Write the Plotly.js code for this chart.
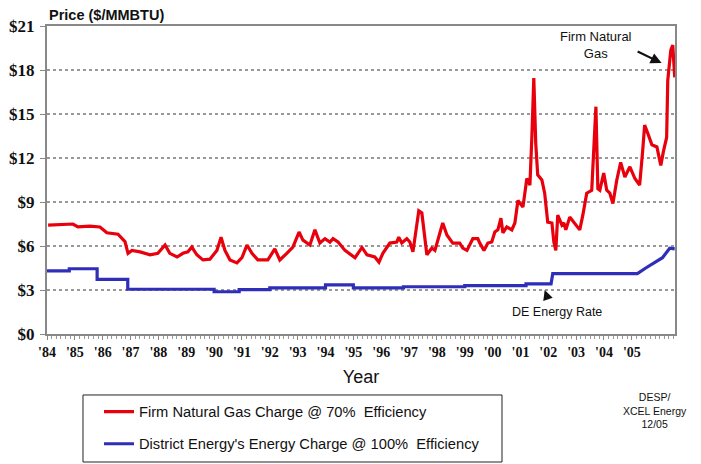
<!DOCTYPE html>
<html>
<head>
<meta charset="utf-8">
<script src="https://cdn.plot.ly/plotly-3.0.1.min.js"></script>
<style>
html,body{margin:0;padding:0;background:#fff;}
#chart{width:701px;height:464px;}
</style>
</head>
<body>
<div id="chart"></div>
<script>
// Firm natural gas charge @ 70% efficiency ($/MMBTU), by decimal year
var gasYears = [1984.04,1984.93,1985.11,1985.54,1985.90,1986.15,1986.55,1986.69,1986.80,1986.91,1987.05,1987.34,1987.70,1987.98,1988.24,1988.41,1988.67,1988.88,1989.06,1989.20,1989.38,1989.60,1989.85,
  1990.10,1990.25,1990.39,1990.57,1990.82,1991.00,1991.18,1991.36,1991.57,1991.93,1992.18,1992.36,1992.61,1992.83,1993.05,1993.19,1993.44,1993.62,1993.80,1993.98,1994.16,1994.27,1994.45,1994.70,1995.06,1995.31,1995.49,
  1995.77,1995.92,1996.06,1996.31,1996.56,1996.63,1996.74,1996.92,1997.03,1997.14,1997.24,1997.35,1997.46,1997.57,1997.64,1997.82,1997.93,1998.11,1998.21,1998.36,1998.57,1998.82,1998.93,1999.08,1999.29,1999.47,1999.54,1999.69,1999.83,1999.97,
  2000.08,2000.19,2000.30,2000.37,2000.51,2000.69,2000.80,2000.91,2001.09,2001.23,2001.34,2001.41,2001.48,2001.55,2001.62,2001.77,2001.87,2001.98,2002.13,2002.20,2002.27,2002.34,2002.49,2002.56,2002.63,2002.77,2002.95,2003.13,2003.24,2003.38,2003.56,
  2003.71,2003.78,2003.85,2003.99,2004.10,2004.21,2004.32,2004.46,2004.60,2004.75,2004.93,2005.11,2005.28,2005.39,2005.46,2005.57,2005.72,2005.90,2006.04,2006.14,2006.25,2006.29,2006.40,2006.47,2006.54];
var gasValues = [7.43,7.5,7.3,7.36,7.3,6.9,6.8,6.5,6.3,5.5,5.7,5.6,5.4,5.5,6.07,5.5,5.25,5.5,5.6,5.93,5.4,5.05,5.1,
  5.7,6.6,5.7,5.05,4.85,5.2,6.07,5.5,5.05,5.05,5.8,5.05,5.5,5.93,6.95,6.4,6.07,7.1,6.2,6.5,6.27,6.5,6.27,5.7,5.2,5.9,5.4,
  5.25,4.9,5.5,6.2,6.27,6.6,6.2,6.5,6.27,5.6,6.9,8.4,8.25,6.5,5.4,5.86,5.7,6.9,7.57,6.75,6.2,6.2,5.86,5.7,6.5,6.5,6.2,5.7,6.2,6.27,
  6.95,7.1,7.9,6.9,7.3,7.1,7.57,9.1,8.65,10.6,10.15,13.4,17.45,13.0,10.85,10.5,9.6,7.63,7.57,6.27,5.7,8.1,7.43,7.57,7.1,7.97,7.57,7.1,8.1,9.6,9.8,
  15.5,9.9,9.8,10.97,9.8,9.6,8.9,10.5,11.7,10.7,11.4,10.6,10.15,12.5,14.25,13.7,12.9,12.75,11.5,12.5,13.4,17.3,19.35,19.7,17.5];

// District Energy's energy charge @ 100% efficiency ($/MMBTU), step series
var deYears  = [1984.0,1984.8,1984.8,1985.8,1985.8,1986.9,1986.9,1990.0,1990.0,1990.9,1990.9,1992.0,1992.0,1994.0,1994.0,1995.0,1995.0,1996.8,1996.8,1999.0,1999.0,2001.2,2001.2,2002.1,2002.16,2005.2,2005.5,2005.75,2006.1,2006.36,2006.54];
var deValues = [4.3,4.3,4.45,4.45,3.72,3.72,3.05,3.05,2.88,2.88,3.02,3.02,3.15,3.15,3.35,3.35,3.15,3.15,3.22,3.22,3.3,3.3,3.42,3.42,4.12,4.12,4.5,4.8,5.2,5.85,5.8];

var yearTicks = [];
var yearLabels = ["'84","'85","'86","'87","'88","'89","'90","'91","'92","'93","'94","'95","'96","'97","'98","'99","'00","'01","'02","'03","'04","'05"];
for (var i = 0; i < yearLabels.length; i++) yearTicks.push(1984 + i);
var priceTicks = [0,3,6,9,12,15,18,21];
var priceLabels = ["$0","$3","$6","$9","$12","$15","$18","$21"];

var traces = [
  {x: gasYears, y: gasValues, type: 'scatter', mode: 'lines', name: 'Firm Natural Gas Charge @ 70%  Efficiency',
   line: {color: '#e8000c', width: 3.2}, legendgroup: 'a'},
  {x: deYears, y: deValues, type: 'scatter', mode: 'lines', name: "District Energy's Energy Charge @ 100%  Efficiency",
   line: {color: '#2e2eb8', width: 3.2}, legendgroup: 'b'}
];

var layout = {
  width: 701, height: 464,
  margin: {l: 47, r: 26, t: 26, b: 130, autoexpand: false},
  paper_bgcolor: '#fff', plot_bgcolor: '#fff',
  font: {family: 'Liberation Sans, Arial, sans-serif', color: '#111'},
  showlegend: true,
  legend: {x: 0.0828, y: -0.2, xanchor: 'left', yanchor: 'top', bgcolor: 'rgba(0,0,0,0)',
           borderwidth: 0, font: {size: 14.7, family: 'Liberation Sans, Arial, sans-serif', color: '#111'},
           traceorder: 'grouped', tracegroupgap: 10, itemwidth: 30},
  xaxis: {
    range: [1984, 2006.55], tickmode: 'array', tickvals: yearTicks, ticktext: yearLabels,
    showgrid: false, zeroline: false, showline: true, linecolor: '#888', linewidth: 2, mirror: true,
    ticks: 'outside', ticklen: 4, tickcolor: '#888', tickwidth: 1,
    minor: {tickmode: 'linear', tick0: 1984, dtick: 1/6, ticks: 'outside', ticklen: 3, tickcolor: '#999', showgrid: false},
    tickfont: {family: 'Liberation Serif, Times New Roman, serif', size: 14, color: '#111', weight: 'bold'},
    title: {text: 'Year', font: {size: 18, family: 'Liberation Sans, Arial, sans-serif', color: '#111'}, standoff: 12},
    fixedrange: true
  },
  yaxis: {
    range: [0, 21], tickmode: 'array', tickvals: priceTicks, ticktext: priceLabels,
    showgrid: true, gridcolor: '#999', griddash: 'dot', gridwidth: 1.2,
    zeroline: false, showline: true, linecolor: '#888', linewidth: 2, mirror: true,
    ticks: 'outside', ticklen: 5, tickcolor: '#888',
    tickfont: {family: 'Liberation Serif, Times New Roman, serif', size: 17, color: '#111', weight: 'bold'},
    ticklabelstandoff: 2,
    fixedrange: true
  },
  shapes: [
    {type: 'rect', xref: 'paper', yref: 'paper', x0: 0.0573, x1: 0.7245, y0: -0.4156, y1: -0.198,
     line: {color: '#222', width: 1}}
  ],
  annotations: [
    {xref: 'paper', yref: 'paper', x: 0, y: 1, xanchor: 'left', yanchor: 'bottom', yshift: 1,
     text: '<b>Price ($/MMBTU)</b>', showarrow: false, font: {size: 14.5, color: '#111'}},
    {xref: 'x', yref: 'y', x: 2003.7, y: 19.7, xanchor: 'center', yanchor: 'middle',
     text: 'Firm Natural<br>Gas', showarrow: false, align: 'center', font: {size: 13, color: '#111'}},
    {xref: 'x', yref: 'y', x: 2006.07, y: 18.47, ax: -27, ay: -13, text: ' ', showarrow: true,
     arrowhead: 2, arrowsize: 1, arrowwidth: 2.2, arrowcolor: '#111', standoff: 0, startstandoff: 0},
    {xref: 'x', yref: 'y', x: 2002.3, y: 1.5, xanchor: 'center', yanchor: 'middle',
     text: 'DE Energy Rate', showarrow: false, font: {size: 12.5, color: '#111'}},
    {xref: 'x', yref: 'y', x: 2001.87, y: 3.0, ax: 6, ay: 17, text: ' ', showarrow: true,
     arrowhead: 2, arrowsize: 1, arrowwidth: 2, arrowcolor: '#111', standoff: 0},
    {xref: 'paper', yref: 'paper', x: (655 - 47) / 628, y: (334 - 410) / 308, xanchor: 'center', yanchor: 'middle',
     text: 'DESP/<br>XCEL Energy<br>12/05', showarrow: false, align: 'center', font: {size: 10.5, color: '#111'}}
  ]
};

Plotly.newPlot('chart', traces, layout, {displayModeBar: false, staticPlot: true});
</script>
</body>
</html>
